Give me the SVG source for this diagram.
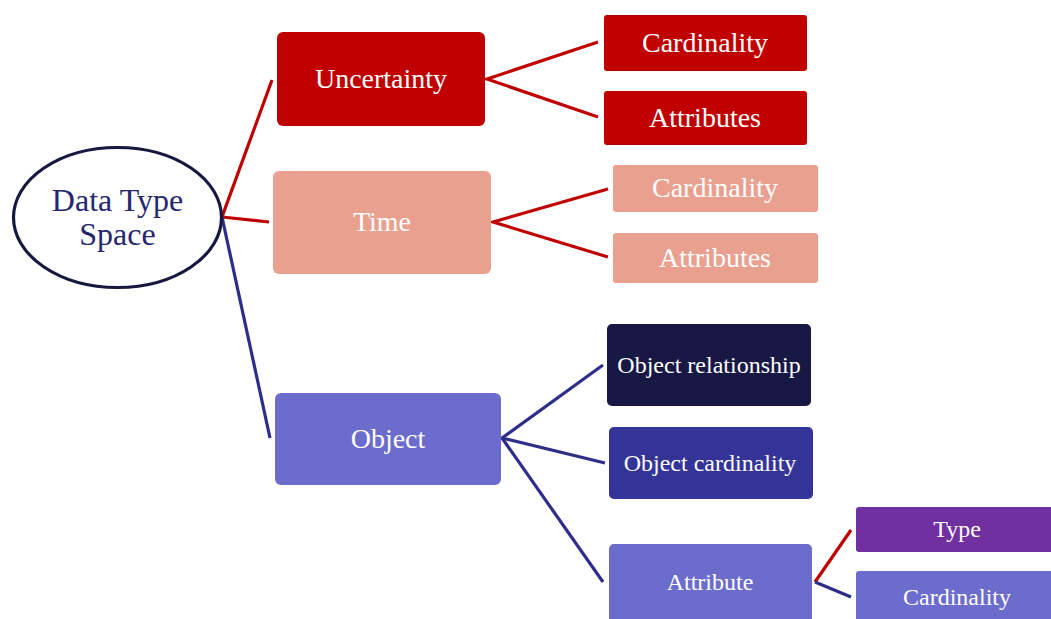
<svg xmlns="http://www.w3.org/2000/svg" width="1051" height="619" viewBox="0 0 1051 619">
  <style>
    .lbl { font-family: "Liberation Serif", "Times New Roman", serif; fill: #ffffff; text-anchor: middle; }
    .big { font-size: 28px; }
    .sm { font-size: 24px; }
    .red { stroke: #c00000; stroke-width: 3.2; fill: none; stroke-linejoin: miter; }
    .blue { stroke: #2e2e8a; stroke-width: 3.2; fill: none; stroke-linejoin: miter; }
  </style>
  <rect width="1051" height="619" fill="#ffffff"/>

  <!-- connectors -->
  <g id="connectors">
    <polyline class="red" points="272,80 222,217 269,222"/>
    <polyline class="blue" points="222,217 270,438"/>
    <polyline class="red" points="598,42 487,79 598,117"/>
    <polyline class="red" points="608,189 493,222 608,257"/>
    <polyline class="blue" points="603,365 502,438 605,463"/>
    <polyline class="blue" points="502,438 603,582"/>
    <polyline class="red" points="851,530 815,582"/>
    <polyline class="blue" points="815,582 851,597"/>
  </g>

  <!-- root -->
  <g id="root">
    <ellipse cx="117.5" cy="217.5" rx="104" ry="70" fill="#ffffff" stroke="#17173f" stroke-width="3.2"/>
    <text x="117.5" y="211" font-family="Liberation Serif, Times New Roman, serif" font-size="32" fill="#26266e" text-anchor="middle">Data Type</text>
    <text x="117.5" y="245" font-family="Liberation Serif, Times New Roman, serif" font-size="32" fill="#26266e" text-anchor="middle">Space</text>
  </g>

  <!-- first level -->
  <g id="uncertainty">
    <rect x="277" y="32" width="208" height="94" rx="6" fill="#c00000"/>
    <text class="lbl big" x="381" y="88">Uncertainty</text>
  </g>
  <g id="time">
    <rect x="273" y="171" width="218" height="103" rx="6" fill="#e9a08f"/>
    <text class="lbl big" x="382" y="231">Time</text>
  </g>
  <g id="object">
    <rect x="275" y="393" width="226" height="92" rx="6" fill="#6c6ccd"/>
    <text class="lbl big" x="388" y="448">Object</text>
  </g>

  <!-- uncertainty children -->
  <g id="unc-cardinality">
    <rect x="604" y="15" width="203" height="56" rx="3" fill="#c00000"/>
    <text class="lbl big" x="705" y="52">Cardinality</text>
  </g>
  <g id="unc-attributes">
    <rect x="604" y="91" width="203" height="54" rx="3" fill="#c00000"/>
    <text class="lbl big" x="705" y="127">Attributes</text>
  </g>

  <!-- time children -->
  <g id="time-cardinality">
    <rect x="613" y="165" width="205" height="47" rx="3" fill="#e9a08f"/>
    <text class="lbl big" x="715" y="197">Cardinality</text>
  </g>
  <g id="time-attributes">
    <rect x="613" y="233" width="205" height="50" rx="3" fill="#e9a08f"/>
    <text class="lbl big" x="715" y="267">Attributes</text>
  </g>

  <!-- object children -->
  <g id="obj-relationship">
    <rect x="607" y="324" width="204" height="82" rx="5" fill="#181845"/>
    <text class="lbl sm" x="709" y="373">Object relationship</text>
  </g>
  <g id="obj-cardinality">
    <rect x="609" y="427" width="204" height="72" rx="5" fill="#343398"/>
    <text class="lbl sm" x="710" y="471">Object cardinality</text>
  </g>
  <g id="obj-attribute">
    <rect x="609" y="544" width="203" height="90" rx="5" fill="#6c6ccd"/>
    <text class="lbl sm" x="710" y="590">Attribute</text>
  </g>

  <!-- attribute children -->
  <g id="attr-type">
    <rect x="856" y="507" width="203" height="45" rx="3" fill="#7030a0"/>
    <text class="lbl sm" x="957" y="537">Type</text>
  </g>
  <g id="attr-cardinality">
    <rect x="856" y="571" width="203" height="60" rx="3" fill="#6c6ccd"/>
    <text class="lbl sm" x="957" y="605">Cardinality</text>
  </g>
</svg>
